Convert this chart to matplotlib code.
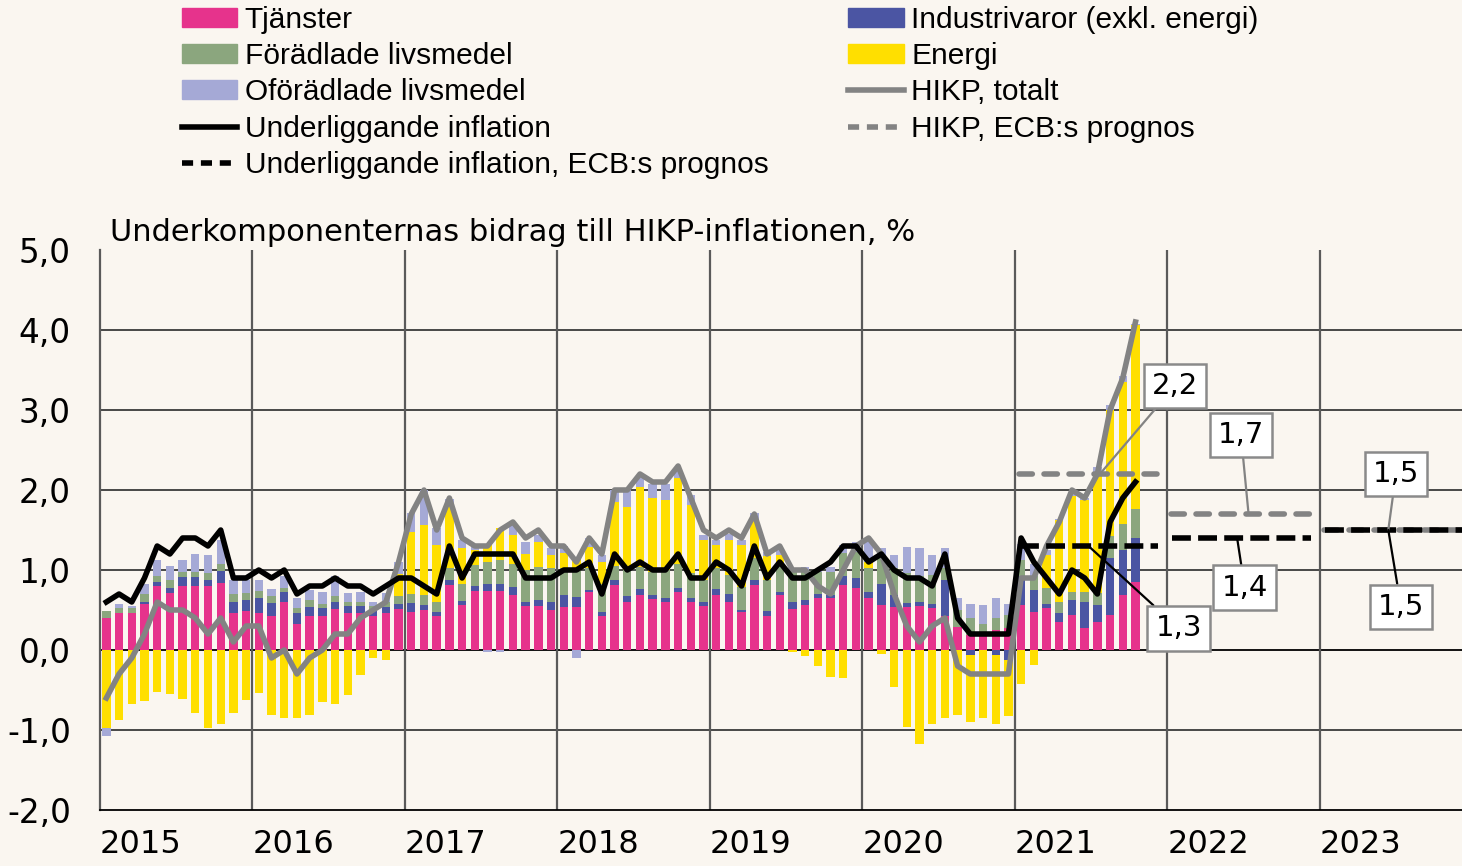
import numpy as np
import matplotlib
matplotlib.use("Agg")
import matplotlib.pyplot as plt
from matplotlib.patches import Patch
from matplotlib.lines import Line2D

plt.rcParams['font.family'] = ['DejaVu Sans']
plt.rcParams['axes.unicode_minus'] = False

# monthly data, Jan 2015 - Oct 2021 (contributions, percentage points)
tjanster = [0.40, 0.46, 0.46, 0.58, 0.80, 0.71, 0.80, 0.80, 0.80, 0.84, 0.46, 0.49,
            0.46, 0.42, 0.60, 0.33, 0.42, 0.42, 0.51, 0.46, 0.46, 0.42, 0.46, 0.51,
            0.47, 0.50, 0.42, 0.81, 0.56, 0.74, 0.74, 0.74, 0.69, 0.55, 0.55, 0.50,
            0.54, 0.54, 0.73, 0.42, 0.81, 0.60, 0.69, 0.64, 0.60, 0.73, 0.60, 0.55,
            0.69, 0.60, 0.47, 0.81, 0.42, 0.69, 0.51, 0.56, 0.65, 0.65, 0.81, 0.77,
            0.65, 0.56, 0.54, 0.54, 0.55, 0.52, 0.42, 0.29, 0.19, 0.17, 0.25, 0.27,
            0.56, 0.48, 0.52, 0.35, 0.44, 0.27, 0.35, 0.44, 0.69, 0.85]
industri = [0.00, 0.00, 0.00, 0.02, 0.05, 0.07, 0.11, 0.11, 0.07, 0.15, 0.14, 0.13,
            0.19, 0.17, 0.13, 0.13, 0.12, 0.10, 0.09, 0.09, 0.09, 0.07, 0.08, 0.07,
            0.12, 0.06, 0.05, 0.06, 0.05, 0.06, 0.09, 0.09, 0.10, 0.05, 0.08, 0.10,
            0.15, 0.12, 0.02, 0.05, 0.06, 0.08, 0.07, 0.05, 0.05, 0.05, 0.05, 0.05,
            0.07, 0.10, 0.03, 0.06, 0.07, 0.04, 0.09, 0.07, 0.05, 0.04, 0.11, 0.13,
            0.08, 0.27, 0.15, 0.05, 0.05, 0.05, 0.45, 0.00, -0.06, 0.00, -0.06, -0.12,
            0.37, 0.27, 0.06, 0.11, 0.18, 0.33, 0.21, 0.71, 0.56, 0.55]
foradlade = [0.09, 0.06, 0.07, 0.10, 0.08, 0.10, 0.07, 0.07, 0.09, 0.08, 0.10, 0.09,
             0.09, 0.08, 0.05, 0.06, 0.08, 0.06, 0.08, 0.05, 0.05, 0.06, 0.06, 0.10,
             0.11, 0.13, 0.13, 0.15, 0.22, 0.26, 0.27, 0.30, 0.29, 0.40, 0.41, 0.42,
             0.33, 0.36, 0.27, 0.36, 0.18, 0.32, 0.28, 0.29, 0.35, 0.30, 0.31, 0.27,
             0.26, 0.24, 0.29, 0.28, 0.38, 0.33, 0.40, 0.35, 0.28, 0.29, 0.29, 0.33,
             0.29, 0.36, 0.33, 0.37, 0.32, 0.37, 0.15, 0.21, 0.21, 0.16, 0.15, 0.17,
             0.20, 0.17, 0.19, 0.14, 0.11, 0.13, 0.15, 0.27, 0.33, 0.36]
oforadlade = [-0.10, 0.06, 0.02, 0.13, 0.19, 0.17, 0.14, 0.22, 0.23, 0.30, 0.17, 0.17,
              0.14, 0.09, 0.14, 0.13, 0.13, 0.14, 0.24, 0.11, 0.13, 0.05, 0.11, 0.15,
              0.23, 0.44, 0.21, 0.10, 0.11, 0.04, -0.02, -0.02, 0.15, 0.15, 0.09, 0.08,
              0.09, -0.10, 0.11, 0.09, 0.15, 0.21, 0.15, 0.18, 0.20, 0.10, 0.13, 0.07,
              0.07, 0.07, 0.07, 0.08, 0.05, 0.06, 0.02, 0.06, 0.02, 0.06, 0.10, 0.12,
              0.27, 0.08, 0.17, 0.33, 0.35, 0.25, 0.25, 0.15, 0.18, 0.23, 0.25, 0.14,
              0.20, 0.15, 0.06, 0.02, 0.06, 0.02, 0.09, 0.06, 0.07, 0.02]
energi = [-0.98, -0.88, -0.67, -0.64, -0.53, -0.55, -0.61, -0.79, -0.97, -0.92, -0.79, -0.63,
          -0.54, -0.81, -0.85, -0.85, -0.81, -0.65, -0.67, -0.56, -0.31, -0.10, -0.12, 0.27,
          0.78, 0.87, 0.71, 0.77, 0.44, 0.19, 0.23, 0.39, 0.36, 0.20, 0.31, 0.17,
          0.19, 0.14, 0.27, 0.27, 0.80, 0.79, 1.00, 0.92, 0.88, 1.07, 0.85, 0.50,
          0.29, 0.44, 0.52, 0.48, 0.30, 0.13, -0.02, -0.08, -0.20, -0.34, -0.35, 0.00,
          0.08, -0.05, -0.46, -0.96, -1.18, -0.92, -0.85, -0.81, -0.84, -0.85, -0.86, -0.71,
          -0.42, -0.19, 0.42, 1.02, 1.19, 1.15, 1.49, 1.58, 1.77, 2.30]
hikp = [-0.6, -0.3, -0.1, 0.2, 0.6, 0.5, 0.5, 0.4, 0.2, 0.4, 0.1, 0.3,
        0.3, -0.1, 0.0, -0.3, -0.1, 0.0, 0.2, 0.2, 0.4, 0.5, 0.6, 1.1,
        1.7, 2.0, 1.5, 1.9, 1.4, 1.3, 1.3, 1.5, 1.6, 1.4, 1.5, 1.3,
        1.3, 1.1, 1.4, 1.2, 2.0, 2.0, 2.2, 2.1, 2.1, 2.3, 1.9, 1.5,
        1.4, 1.5, 1.4, 1.7, 1.2, 1.3, 1.0, 1.0, 0.8, 0.7, 1.0, 1.3,
        1.4, 1.2, 0.7, 0.3, 0.1, 0.3, 0.4, -0.2, -0.3, -0.3, -0.3, -0.3,
        0.9, 0.9, 1.3, 1.6, 2.0, 1.9, 2.2, 3.0, 3.4, 4.1]
underliggande = [0.6, 0.7, 0.6, 0.9, 1.3, 1.2, 1.4, 1.4, 1.3, 1.5, 0.9, 0.9,
                 1.0, 0.9, 1.0, 0.7, 0.8, 0.8, 0.9, 0.8, 0.8, 0.7, 0.8, 0.9,
                 0.9, 0.8, 0.7, 1.3, 0.9, 1.2, 1.2, 1.2, 1.2, 0.9, 0.9, 0.9,
                 1.0, 1.0, 1.1, 0.7, 1.2, 1.0, 1.1, 1.0, 1.0, 1.2, 0.9, 0.9,
                 1.1, 1.0, 0.8, 1.3, 0.9, 1.1, 0.9, 0.9, 1.0, 1.1, 1.3, 1.3,
                 1.1, 1.2, 1.0, 0.9, 0.9, 0.8, 1.2, 0.4, 0.2, 0.2, 0.2, 0.2,
                 1.4, 1.1, 0.9, 0.7, 1.0, 0.9, 0.7, 1.6, 1.9, 2.1]

# ECB forecasts per year 2021-2023
prognos_ar = [2021, 2022, 2023]
prognos_hikp = [2.2, 1.7, 1.5]
prognos_und = [1.3, 1.4, 1.5]
ar = list(range(2015, 2024))

c_tj = '#E6338C'
c_ind = '#4B55A3'
c_fo = '#8BA67E'
c_of = '#A5A9D6'
c_en = '#FFDF00'
c_grey = '#838383'
bg = '#FAF6F0'
LW = 4.0

fig = plt.figure(figsize=(14.62, 8.66), dpi=100)
fig.patch.set_facecolor(bg)
ax = fig.add_axes([100 / 1462, 56 / 866, 1362 / 1462, 560 / 866])
ax.set_facecolor(bg)

x = np.arange(len(hikp)) + 0.5
pos = np.zeros(len(x))
neg = np.zeros(len(x))
for serie, col in [(tjanster, c_tj), (industri, c_ind), (foradlade, c_fo),
                   (energi, c_en), (oforadlade, c_of)]:
    v = np.array(serie)
    bottom = np.where(v >= 0, pos, neg)
    ax.bar(x, v, 0.66, bottom=bottom, color=col, zorder=3, linewidth=0)
    pos = pos + np.clip(v, 0, None)
    neg = neg + np.clip(v, None, 0)

ax.plot(x, hikp, color=c_grey, lw=LW, zorder=5, solid_joinstyle='round')
ax.plot(x, underliggande, color='black', lw=LW, zorder=6, solid_joinstyle='round')

for a, h, u in zip(prognos_ar, prognos_hikp, prognos_und):
    m0 = (a - 2015) * 12
    ax.plot([m0 + 0.3, m0 + 11.2], [h, h], color=c_grey, lw=LW, dashes=(2.4, 2.1),
            dash_capstyle='round', zorder=7)
    ax.plot([m0 + 0.4, m0 + 11.3], [u, u], color='black', lw=LW, dashes=(3.4, 1.3),
            dash_capstyle='butt', zorder=7)

# labels for the forecasts
etiketter = [("2,2", (78.7, 2.2), (84.6, 3.3), c_grey),
             ("1,3", (77.8, 1.3), (84.9, 0.27), 'black'),
             ("1,7", (90.4, 1.7), (89.8, 2.69), c_grey),
             ("1,4", (89.5, 1.4), (90.1, 0.78), 'black'),
             ("1,5", (101.4, 1.5), (102.0, 2.2), c_grey),
             ("1,5", (101.4, 1.5), (102.4, 0.54), 'black')]
for txt, xy, xyt, col in etiketter:
    ax.annotate(txt, xy=xy, xytext=xyt, ha='center', va='center', fontsize=21,
                bbox=dict(boxstyle='square,pad=0.28', fc='white', ec='#8a8a8a', lw=1.8),
                arrowprops=dict(arrowstyle='-', color=col, lw=1.6, shrinkA=0, shrinkB=0),
                zorder=9)

ax.set_xlim(0, 107.2)
ax.set_ylim(-2, 5)
ax.set_yticks(np.arange(-2, 6, 1))
ax.set_yticklabels([f"{v:.1f}".replace('.', ',') for v in np.arange(-2, 6, 1)])
ax.set_xticks([(a - 2015) * 12 for a in ar])
ax.set_xticklabels([str(a) for a in ar], ha='left')
ax.tick_params(axis='y', length=0, labelsize=23.5, pad=21)
ax.tick_params(axis='x', length=0, labelsize=23, pad=14)

for yv in range(-1, 5):
    ax.axhline(yv, color='black' if yv == 0 else '#3a3a3a', lw=1.3, zorder=2)
for a in ar[1:]:
    ax.axvline((a - 2015) * 12, color='#5a5a5a', lw=1.6, zorder=2)
for s in ['top', 'right']:
    ax.spines[s].set_visible(False)
ax.spines['left'].set_color('#5a5a5a')
ax.spines['left'].set_linewidth(1.6)
ax.spines['bottom'].set_linewidth(1.3)

ax.text(0.0075, 1.032, "Underkomponenternas bidrag till HIKP-inflationen, %",
        transform=ax.transAxes, fontsize=22, ha='left', va='center')

handles = [Patch(color=c_tj, label='Tjänster'),
           Patch(color=c_fo, label='Förädlade livsmedel'),
           Patch(color=c_of, label='Oförädlade livsmedel'),
           Line2D([], [], color='black', lw=LW, label='Underliggande inflation'),
           Line2D([], [], color='black', lw=LW, dashes=(2.0, 1.4),
                  label='Underliggande inflation, ECB:s prognos'),
           Patch(color=c_ind, label='Industrivaror (exkl. energi)'),
           Patch(color=c_en, label='Energi'),
           Line2D([], [], color=c_grey, lw=LW, label='HIKP, totalt'),
           Line2D([], [], color=c_grey, lw=LW, dashes=(2.0, 1.4),
                  label='HIKP, ECB:s prognos')]
fig.legend(handles=handles, loc='upper left', bbox_to_anchor=(182 / 1462, 0.9935),
           ncol=2, frameon=False, borderpad=0, borderaxespad=0,
           prop={'family': 'Liberation Sans', 'size': 21.5},
           handlelength=1.85, handleheight=0.6, handletextpad=0.25,
           columnspacing=2.68, labelspacing=0.28)

fig.savefig("out.png", dpi=100, facecolor=bg)
